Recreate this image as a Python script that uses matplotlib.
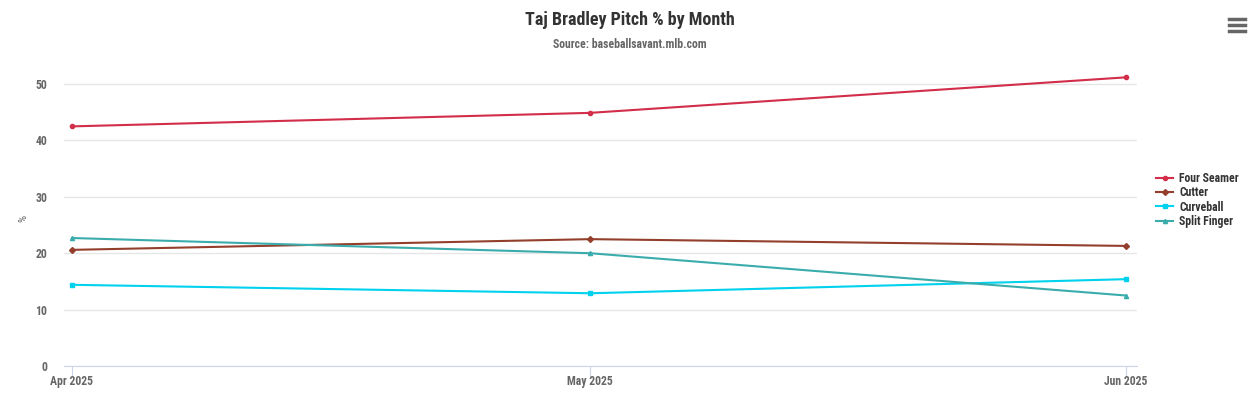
import matplotlib.pyplot as plt
import matplotlib.dates as mdates
from matplotlib.lines import Line2D
from datetime import datetime
from matplotlib import font_manager

months = [datetime(2025, 4, 1), datetime(2025, 5, 1), datetime(2025, 6, 1)]
month_labels = ["Apr 2025", "May 2025", "Jun 2025"]
four_seamer = [42.5, 44.9, 51.2]
cutter = [20.6, 22.5, 21.3]
curveball = [14.4, 12.9, 15.4]
split_finger = [22.7, 20.0, 12.5]

series = [
    ("Four Seamer", four_seamer, "#d22d49", "o"),
    ("Cutter", cutter, "#933f2c", "D"),
    ("Curveball", curveball, "#00d1ed", "s"),
    ("Split Finger", split_finger, "#3bacac", "^"),
]

names = {f.name for f in font_manager.fontManager.ttflist}
fam = "Roboto Condensed" if "Roboto Condensed" in names else (
    "Liberation Sans Narrow" if "Liberation Sans Narrow" in names else "Roboto")
plt.rcParams["font.family"] = [fam, "DejaVu Sans"]

fig = plt.figure(figsize=(12.54, 3.93), dpi=100)
ax = fig.add_axes([64 / 1254, 27 / 393, (1137 - 64) / 1254, (366 - 70) / 393])

for name, vals, col, mk in series:
    ax.plot(months, vals, color=col, lw=1.5, marker=mk, markersize=3, label=name)

d0 = mdates.date2num(months[0])
d2 = mdates.date2num(months[-1])
per_px = (d2 - d0) / (1126 - 72)
ax.set_xlim(d0 - 8 * per_px, d2 + 11 * per_px)
ax.set_ylim(0, 52.5)
ax.set_yticks([0, 10, 20, 30, 40, 50])
ax.set_xticks(months)
ax.set_xticklabels(month_labels)
ax.grid(axis="y", color="#e6e6e6", lw=1)
ax.set_axisbelow(True)
for s in ["top", "right", "left"]:
    ax.spines[s].set_visible(False)
ax.spines["bottom"].set_color("#ccd6eb")
ax.tick_params(axis="y", length=0, labelsize=8.5, labelcolor="#666666", pad=12)
ax.tick_params(axis="x", length=8, color="#ccd6eb", labelsize=8.5, labelcolor="#666666", pad=-1.5)
for t in ax.get_xticklabels() + ax.get_yticklabels():
    t.set_fontweight("bold")
ax.set_ylabel("%", fontsize=8, color="#666666", labelpad=5)

fig.text(0.502, 0.95, "Taj Bradley Pitch % by Month", ha="center", va="center",
         fontsize=13, fontweight="bold", color="#333333")
fig.text(0.502, 0.888, "Source: baseballsavant.mlb.com", ha="center", va="center",
         fontsize=8.5, fontweight="bold", color="#666666")

ax.legend(loc="center left", bbox_to_anchor=(1151 / 1254, 1 - 200 / 393), bbox_transform=fig.transFigure,
          frameon=False, prop={"weight": "bold", "size": 8.5}, handlelength=1.5,
          handletextpad=0.5, labelspacing=0.1, borderaxespad=0, labelcolor="#333333")

for yy in [19, 25, 31]:
    fig.add_artist(Line2D([1229 / 1254, 1245 / 1254], [1 - yy / 393, 1 - yy / 393],
                          color="#666666", lw=2.5, transform=fig.transFigure))

fig.savefig("out.png", dpi=100)
